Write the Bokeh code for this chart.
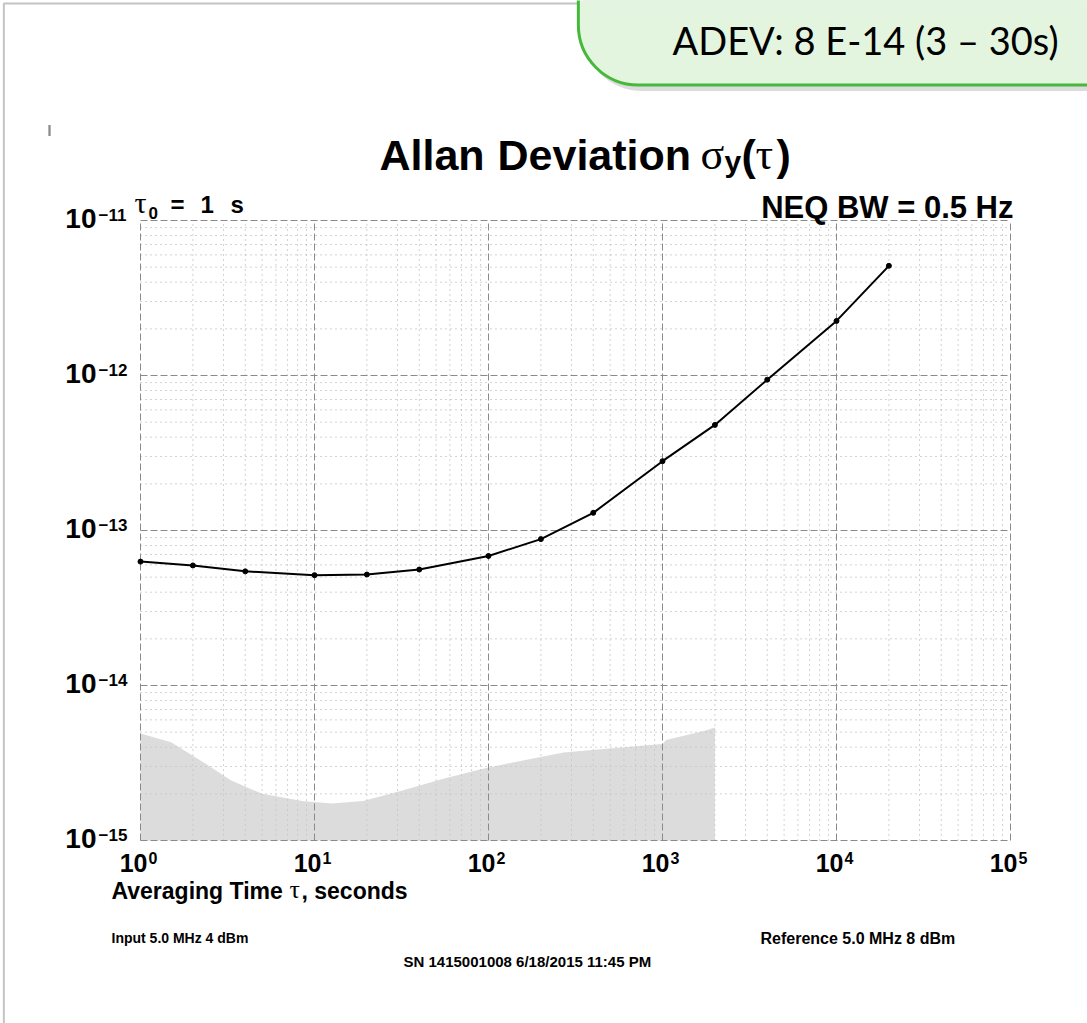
from math import log10

from bokeh.plotting import figure
from bokeh.models import Label, Range1d, ColumnDataSource
from bokeh.embed import file_html
from bokeh.resources import INLINE

# Allan deviation of the oscillator under test
tau = [1, 2, 4, 10, 20, 40, 100, 200, 400, 1000, 2000, 4000, 10000, 20000]
adev = [6.3e-14, 5.95e-14, 5.45e-14, 5.15e-14, 5.2e-14, 5.6e-14, 6.85e-14,
        8.8e-14, 1.3e-13, 2.8e-13, 4.8e-13, 9.4e-13, 2.25e-12, 5.1e-12]

# noise floor of the measurement system (shaded band)
floor_tau = [1, 1.5, 2.2, 3.3, 5, 8.5, 12.5, 19, 32, 55, 93, 160, 270, 460,
             790, 1000, 1050, 1750, 2000]
floor_adev = [4.9e-15, 4.3e-15, 3.3e-15, 2.45e-15, 2.0e-15, 1.8e-15, 1.73e-15,
              1.8e-15, 2.1e-15, 2.5e-15, 2.9e-15, 3.3e-15, 3.7e-15, 3.9e-15,
              4.1e-15, 4.2e-15, 4.45e-15, 5.1e-15, 5.35e-15]

# decades of the chart, labelled as 10 with a raised exponent
x_exponents = [0, 1, 2, 3, 4, 5]
y_exponents = [-11, -12, -13, -14, -15]

SANS = "Liberation Sans"
SERIF = "Liberation Serif"
CALLOUT_FONT = "Lato"
# distance from the baseline up to the middle of each font's text box, in em
MID = {SANS: 0.3465, SERIF: 0.3375, CALLOUT_FONT: 0.387}

W, H = 1087, 1023
FL, FR, FT, FB = 140, 1010, 220, 840   # edges of the graph paper on the page

X_LO, X_HI = 10.0 ** x_exponents[0], 10.0 ** x_exponents[-1]
Y_LO, Y_HI = 10.0 ** y_exponents[-1], 10.0 ** y_exponents[0]
PX_DEC_X = (FR - FL) / (log10(X_HI) - log10(X_LO))
PX_DEC_Y = (FB - FT) / (log10(Y_HI) - log10(Y_LO))

# the frame fills the whole page, so the log ranges run past the graph paper
x_range = Range1d(10 ** (log10(X_LO) - FL / PX_DEC_X),
                  10 ** (log10(X_HI) + (W - FR) / PX_DEC_X))
y_range = Range1d(10 ** (log10(Y_LO) - (H - FB) / PX_DEC_Y),
                  10 ** (log10(Y_HI) + FT / PX_DEC_Y))

p = figure(width=W, height=H, x_axis_type="log", y_axis_type="log",
           x_range=x_range, y_range=y_range,
           output_backend="svg", toolbar_location=None,
           min_border=0, background_fill_color="white",
           border_fill_color="white")
p.xaxis.visible = False
p.yaxis.visible = False
p.xgrid.visible = False
p.ygrid.visible = False
p.outline_line_color = None


def page(cx, cy):
    """Page pixel (from the top-left corner) to data coordinates."""
    return (10 ** (log10(X_LO) + (cx - FL) / PX_DEC_X),
            10 ** (log10(Y_LO) + (FB - cy) / PX_DEC_Y))


# graph paper: dashed decade lines, dotted 2..9 lines
x_major = [10.0 ** e for e in x_exponents]
x_minor = [m * 10.0 ** e for e in x_exponents[:-1] for m in range(2, 10)]
y_major = [10.0 ** e for e in y_exponents]
y_minor = [m * 10.0 ** e for e in y_exponents[1:] for m in range(2, 10)]

p.segment(x0=x_minor, x1=x_minor, y0=[Y_LO] * len(x_minor), y1=[Y_HI] * len(x_minor),
          line_color="#a6a6a6", line_dash="1 4", line_width=1)
p.segment(x0=[X_LO] * len(y_minor), x1=[X_HI] * len(y_minor), y0=y_minor, y1=y_minor,
          line_color="#a6a6a6", line_dash="1 4", line_width=1)

floor_src = ColumnDataSource(dict(
    tau=floor_tau, adev=floor_adev, base=[Y_LO] * len(floor_tau)))
p.varea(x="tau", y1="base", y2="adev", source=floor_src,
        fill_color="#c4c4c4", fill_alpha=0.6)

p.segment(x0=x_major, x1=x_major, y0=[Y_LO] * len(x_major), y1=[Y_HI] * len(x_major),
          line_color="#8a8a8a", line_dash="7 3", line_width=1)
p.segment(x0=[X_LO] * len(y_major), x1=[X_HI] * len(y_major), y0=y_major, y1=y_major,
          line_color="#8a8a8a", line_dash="7 3", line_width=1)

src = ColumnDataSource(dict(tau=tau, adev=adev))
p.line(x="tau", y="adev", source=src, line_color="black", line_width=2)
p.scatter(x="tau", y="adev", source=src, size=5, color="black")


def text(t, x, y, size, font=SANS, style="bold", align="left",
         dx=0, dy=0, color="black"):
    p.add_layout(Label(x=x, y=y, x_offset=dx, y_offset=dy, text=t,
                       text_font=font, text_font_size=f"{size}px",
                       text_font_style=style, text_align=align,
                       text_baseline="alphabetic", text_color=color))


def page_text(t, cx, base, size, font=SANS, style="bold", align="left"):
    """Text whose baseline sits at page row `base`."""
    x, y = page(cx, base - MID[font] * size)
    text(t, x, y, size, font=font, style=style, align=align)


def tick_text(t, x, y, size, dx, below, align):
    """Tick label whose baseline sits `below` pixels under the point."""
    text(t, x, y, size, align=align, dx=dx, dy=-(below - MID[SANS] * size))


def page_box(x0, y0, x1, y1, fill, line=None, width=0, radius=None, alpha=1.0):
    x, y = page((x0 + x1) / 2, (y0 + y1) / 2)
    hw, hh = int((x1 - x0) / 2), int((y1 - y0) / 2)
    lab = Label(x=x, y=y, text=" ", text_font_size="1px",
                text_align="center", text_baseline="middle",
                padding=dict(left=hw, right=hw, top=hh, bottom=hh),
                background_fill_color=fill, background_fill_alpha=alpha,
                border_line_color=line, border_line_width=width)
    if radius is not None:
        lab.border_radius = radius
    p.add_layout(lab)


# page edge and the summary callout
page_box(3, 3, 1400, 1400, None, line="#c4c4c4", width=2)
page_box(48, 125, 50, 135, "#8a8a8a")
corner = dict(top_left=0, top_right=0, bottom_right=0, bottom_left=60)
page_box(582, -300, 1300, 90, "#8a8a8a", radius=corner, alpha=0.3)
page_box(578, -300, 1300, 84, "#e3f5df", line="#46b83a", width=3, radius=corner)
page_text("ADEV: 8 E-14 (3 \u2013 30s)", 672, 54, 38, font=CALLOUT_FONT,
          style="normal")

# y tick labels
for e in y_exponents:
    tick_text("10", X_LO, 10.0 ** e, 28, dx=-44, below=8, align="right")
    tick_text("\u2212" + str(-e), X_LO, 10.0 ** e, 17, dx=-42, below=0, align="left")

# x tick labels
for e in x_exponents:
    tick_text("10", 10.0 ** e, Y_LO, 25, dx=7, below=31, align="right")
    tick_text(str(e), 10.0 ** e, Y_LO, 16, dx=8, below=23, align="left")

# title
page_text("Allan", 379, 169, 43)
page_text("Deviation", 497, 169, 43)
page_text("\u03c3", 700, 169, 44, font=SERIF, style="normal")
page_text("y", 724, 171, 30)
page_text("(", 741, 169, 43)
page_text("\u03c4", 755, 169, 44, font=SERIF, style="normal")
page_text(")", 776, 169, 43)

# header annotations
page_text("\u03c4", 134, 212, 30, font=SERIF, style="normal")
page_text("0", 148, 218, 17)
page_text("=", 170, 212, 24)
page_text("1", 200, 212, 24)
page_text("s", 230, 212, 24)
page_text("NEQ BW = 0.5 Hz", 1013, 218, 31, align="right")

# x-axis title
page_text("Averaging Time", 111, 898, 23)
page_text("\u03c4", 289, 898, 26, font=SERIF, style="normal")
page_text(", seconds", 301, 898, 23)

# footer
page_text("Input 5.0 MHz 4 dBm", 111, 942, 14)
page_text("SN 1415001008 6/18/2015 11:45 PM", 403, 966, 15)
page_text("Reference 5.0 MHz 8 dBm", 760, 944, 16)

open("out.html", "w").write(file_html(p, INLINE))
